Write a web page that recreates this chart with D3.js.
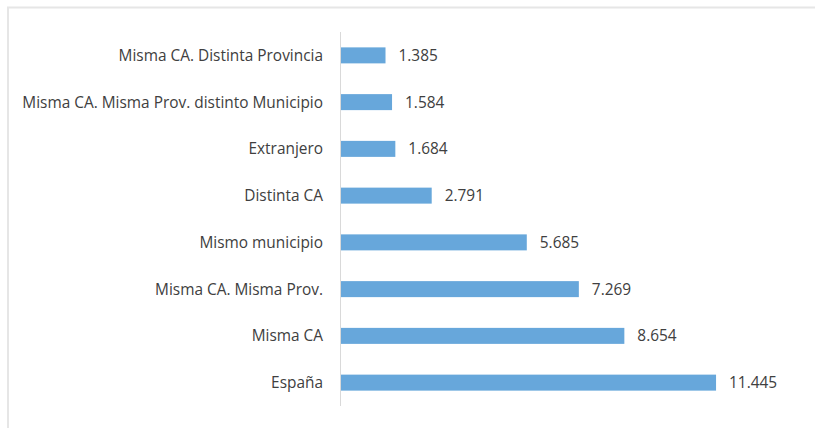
<!DOCTYPE html>
<html><head><meta charset="utf-8">
<script src="https://cdn.jsdelivr.net/npm/d3@7"></script>
<style>body{margin:0;background:#fff}svg{display:block}</style>
</head><body>
<script>
const categories = ["Misma CA. Distinta Provincia","Misma CA. Misma Prov. distinto Municipio","Extranjero","Distinta CA","Mismo municipio","Misma CA. Misma Prov.","Misma CA","España"];
const values = [1.385,1.584,1.684,2.791,5.685,7.269,8.654,11.445];
const valueLabels = ["1.385","1.584","1.684","2.791","5.685","7.269","8.654","11.445"];

const W = 815, H = 428;
const svg = d3.select("body").append("svg").attr("width", W).attr("height", H);

// frame
svg.append("path").attr("d", `M8,${H} V7.5 H${W}`).attr("fill","none").attr("stroke","#e6e6e6").attr("stroke-width",2);

const x = d3.scaleLinear().domain([0,14]).range([340,800]);
const y = d3.scaleBand().domain(categories).range([32,406]).paddingInner(0.66).paddingOuter(0.33);

svg.append("g").selectAll("rect").data(categories).join("rect")
  .attr("x", x(0)).attr("y", d => y(d) + y.bandwidth()/2 - 8)
  .attr("width", (d,i) => x(values[i]) - x(0)).attr("height", 16)
  .attr("fill", "#67a7db");

svg.append("line").attr("x1", x(0)+0.5).attr("x2", x(0)+0.5).attr("y1", 32).attr("y2", 406)
  .attr("stroke", "#d9d9d9").attr("stroke-width", 1);

const font = "'Open Sans', sans-serif";
const labels = svg.append("g").selectAll("text").data(categories).join("text")
  .attr("x", 323).attr("y", d => y(d) + y.bandwidth()/2)
  .attr("dy", "0.35em").attr("text-anchor", "end")
  .attr("font-family", font).attr("font-size", 14).attr("fill", "#404040")
  .text(d => d);
// fit longest label to reference width
const longest = labels.filter((d,i) => i === 1).node();
const wl = longest.getComputedTextLength();
const fs = 14 * 301 / wl;
labels.attr("font-size", fs);

svg.append("g").selectAll("text").data(categories).join("text")
  .attr("x", (d,i) => x(values[i]) + 13).attr("y", d => y(d) + y.bandwidth()/2)
  .attr("dy", "0.35em").attr("text-anchor", "start")
  .attr("font-family", font).attr("font-size", fs).attr("fill", "#404040")
  .text((d,i) => valueLabels[i]);
</script>
</body></html>
